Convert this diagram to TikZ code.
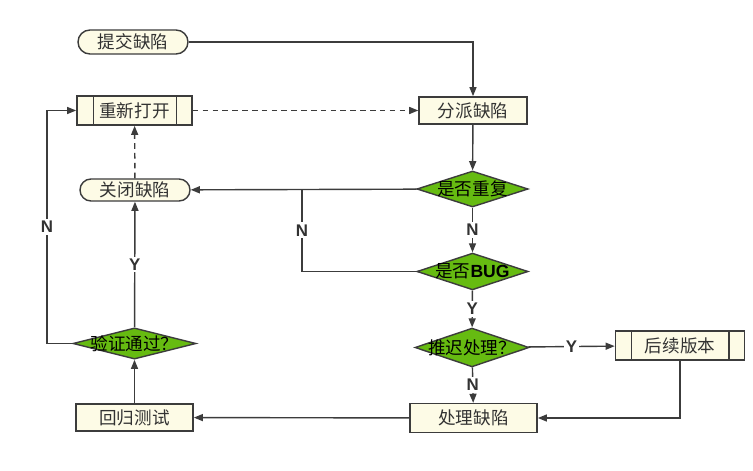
\documentclass[tikz,border=0pt]{standalone}
\usepackage{fontspec}
\setmainfont{Noto Sans CJK SC}
\setsansfont{Liberation Sans}
\usetikzlibrary{shapes.geometric,shapes.misc,arrows.meta}
\definecolor{boxfill}{RGB}{253,251,230}
\definecolor{decfill}{RGB}{102,187,17}
\definecolor{linegray}{RGB}{60,60,60}
\definecolor{textgray}{RGB}{50,50,50}
\tikzset{
  box/.style={draw=linegray, fill=boxfill, line width=1pt, inner sep=0pt, text=textgray},
  term/.style={box, rounded rectangle},
  decide/.style={draw=linegray, fill=decfill, line width=1pt, diamond, inner sep=0pt},
  lbl/.style={fill=white, inner sep=1.5pt, text=textgray, font=\sffamily\bfseries\fontsize{12}{14}\selectfont},
  arr/.style={draw=linegray, line width=1pt, -{Triangle[length=6.5pt,width=5pt]}},
  link/.style={draw=linegray, line width=1pt},
  dashline/.style={dash pattern=on 4pt off 3pt}
}
\begin{document}
\begin{tikzpicture}[x=0.025cm, y=-0.025cm, font=\fontsize{12.5}{14}\selectfont]
\useasboundingbox (0,0) rectangle (753,471);
\node[term, minimum width=2.75cm, minimum height=0.6cm] (submit) at (133,42) {提交缺陷};
\node[box, minimum width=2.88cm, minimum height=0.73cm] (reopen) at (134.5,110.5) {重新打开};
\node[box, minimum width=2.7cm, minimum height=0.68cm] (assign) at (473,110.5) {分派缺陷};
\node[term, minimum width=2.75cm, minimum height=0.55cm] (close) at (135,190) {关闭缺陷};
\node[decide, minimum width=2.78cm, minimum height=0.9cm, label=center:是否重复] (dup) at (472.5,189) {};
\node[decide, minimum width=2.78cm, minimum height=0.92cm, label={center:是否{\sffamily\bfseries BUG}}] (bug) at (472.5,271.5) {};
\node[decide, minimum width=2.85cm, minimum height=0.97cm, label=center:推迟处理？] (defer) at (472,347.5) {};
\node[box, minimum width=3.23cm, minimum height=0.73cm] (later) at (680,345.5) {后续版本};
\node[box, minimum width=3.18cm, minimum height=0.72cm] (fix) at (473.5,418) {处理缺陷};
\node[box, minimum width=2.93cm, minimum height=0.68cm] (regress) at (134.5,417.5) {回归测试};
\node[decide, minimum width=3.08cm, minimum height=0.78cm, label=center:验证通过？] (verify) at (134.5,343.5) {};
\coordinate (join) at (302,189);
\coordinate (back) at (47,110.5);
% side bars
\draw[link] ([xshift=0.43cm]reopen.north west) -- ([xshift=0.43cm]reopen.south west)
  ([xshift=-0.41cm]reopen.north east) -- ([xshift=-0.41cm]reopen.south east);
\draw[link] ([xshift=0.42cm]later.north west) -- ([xshift=0.42cm]later.south west)
  ([xshift=-0.41cm]later.north east) -- ([xshift=-0.41cm]later.south east);
% connectors
\path[arr] (submit) -| (assign);
\path[arr, dashline] (reopen) -- (assign);
\path[arr] (assign) -- (dup);
\path[arr] (dup) -- node[lbl] {N} (bug);
\path[arr] (dup) -- (close);
\path[link] (bug.west) -| node[lbl, pos=0.75] {N} (join);
\path[arr] (bug) -- node[lbl] {Y} (defer);
\path[arr] (defer) -- node[lbl] {Y} (later);
\path[arr] (defer) -- node[lbl] {N} (fix);
\path[arr] (later.south) |- (fix.east);
\path[arr] (fix) -- (regress);
\path[arr] (regress) -- (verify);
\path[arr] (verify) -- node[lbl] {Y} (close);
\path[arr] (verify.west) -| node[lbl, pos=0.75] {N} (back) -- (reopen.west);
\path[arr, dashline] (close) -- (reopen);
\end{tikzpicture}
\end{document}
